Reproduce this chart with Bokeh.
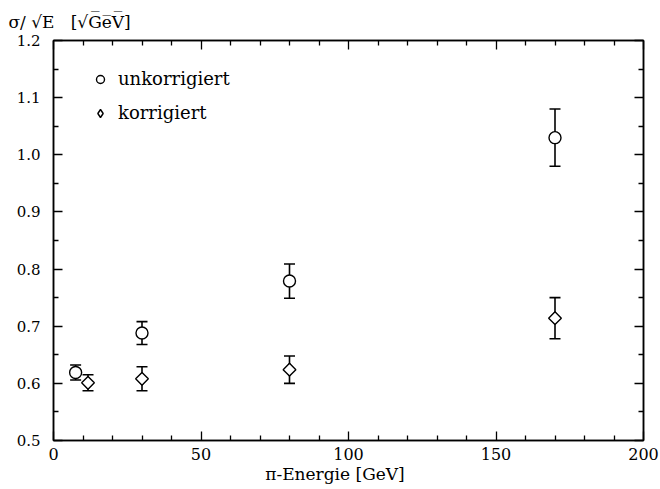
from bokeh.plotting import figure
from bokeh.models import (Range1d, LinearAxis, FixedTicker, NumeralTickFormatter, CustomJSTickFormatter,
                          Whisker, TeeHead, ColumnDataSource, Legend, LegendItem, Title)
from bokeh.embed import file_html
from bokeh.resources import INLINE
import math

# data
energy_unkorr = [7.5, 30, 80, 170]
sigma_unkorr = [0.619, 0.688, 0.779, 1.030]
err_unkorr = [0.013, 0.020, 0.030, 0.050]

energy_korr = [11.7, 30, 80, 170]
sigma_korr = [0.601, 0.608, 0.624, 0.714]
err_korr = [0.014, 0.021, 0.024, 0.036]

x_ticks = [0, 50, 100, 150, 200]
x_minor = [10, 20, 30, 40, 60, 70, 80, 90, 110, 120, 130, 140, 160, 170, 180, 190]
y_ticks = [0.5, 0.6, 0.7, 0.8, 0.9, 1.0, 1.1, 1.2]
y_minor = [0.55, 0.65, 0.75, 0.85, 0.95, 1.05, 1.15]

label_unkorr = "unkorrigiert"
label_korr = "korrigiert"
x_title = "π-Energie [GeV]" + "\u00a0" * 5
y_title = "σ/ √E\u00a0\u00a0 [√G̅e̅V̅]"

FONT = "DejaVu Serif"

p = figure(width=660, height=489, output_backend="svg", toolbar_location=None,
           x_range=Range1d(0, 200), y_range=Range1d(0.5, 1.2),
           min_border_left=53, min_border_right=17, min_border_top=40, min_border_bottom=49,
           x_axis_location=None, y_axis_location=None)
p.xgrid.visible = False
p.ygrid.visible = False
p.outline_line_color = "black"
p.outline_line_width = 1.5
p.background_fill_color = "white"
p.border_fill_color = "white"

def style(ax, show, standoff):
    ax.major_tick_in = 9
    ax.major_tick_out = 0
    ax.minor_tick_in = 5
    ax.minor_tick_out = 0
    ax.axis_line_color = "black"
    ax.axis_line_width = 1.5
    ax.major_tick_line_width = 1.3
    ax.minor_tick_line_width = 1.3
    ax.major_tick_line_color = "black"
    ax.minor_tick_line_color = "black"
    ax.major_label_text_font = FONT
    ax.major_label_text_font_size = "16px"
    ax.major_label_text_color = "black"
    if not show:
        ax.formatter = CustomJSTickFormatter(code="return ''")
        ax.major_label_standoff = 0
    else:
        ax.major_label_standoff = standoff
    return ax

def make_x(show):
    ax = LinearAxis(ticker=FixedTicker(ticks=x_ticks, minor_ticks=x_minor))
    return style(ax, show, 7)

def make_y(show):
    ax = LinearAxis(ticker=FixedTicker(ticks=y_ticks, minor_ticks=y_minor),
                    formatter=NumeralTickFormatter(format="0.0"))
    return style(ax, show, 13)

xb = make_x(True)
xb.axis_label = x_title
xb.axis_label_text_font = FONT
xb.axis_label_text_font_size = "17px"
xb.axis_label_text_font_style = "normal"
xb.axis_label_text_color = "black"
xb.axis_label_standoff = 1
p.add_layout(xb, "below")
p.add_layout(make_x(False), "above")
yl = make_y(True)
yl.major_label_text_font_size = "15px"
p.add_layout(yl, "left")
p.add_layout(make_y(False), "right")

src_u = ColumnDataSource(dict(x=energy_unkorr, y=sigma_unkorr,
                              lo=[s - e for s, e in zip(sigma_unkorr, err_unkorr)],
                              hi=[s + e for s, e in zip(sigma_unkorr, err_unkorr)]))
src_k = ColumnDataSource(dict(x=energy_korr, y=sigma_korr,
                              lo=[s - e for s, e in zip(sigma_korr, err_korr)],
                              hi=[s + e for s, e in zip(sigma_korr, err_korr)]))

for src in (src_u, src_k):
    w = Whisker(source=src, base="x", lower="lo", upper="hi", dimension="height",
                line_color="black", line_width=1.6,
                lower_head=TeeHead(size=11, line_color="black", line_width=1.6),
                upper_head=TeeHead(size=11, line_color="black", line_width=1.6))
    p.add_layout(w)

# diamond glyph used for the legend symbol; drawn underneath the wider data diamonds
r_k_leg = p.scatter("x", "y", source=src_k, marker="diamond", size=12,
                    fill_color="white", line_color="black", line_width=1.4)
r_u = p.scatter("x", "y", source=src_u, marker="circle", size=12,
                fill_color="white", line_color="black", line_width=1.4)
r_k = p.scatter("x", "y", source=src_k, marker="square", angle=math.pi / 4, size=9,
                fill_color="white", line_color="black", line_width=1.4)

legend = Legend(items=[LegendItem(label=label_unkorr, renderers=[r_u]),
                       LegendItem(label=label_korr, renderers=[r_k_leg])],
                location=(37, 317), border_line_color=None, background_fill_alpha=0,
                padding=0, margin=0, spacing=13, label_standoff=8,
                glyph_width=20, glyph_height=20, label_height=20,
                label_text_font=FONT, label_text_font_size="18px",
                label_text_color="black")
p.add_layout(legend)

p.title = Title(text=y_title, align="left", offset=-45, text_font=FONT,
                text_font_size="17px", text_font_style="normal", text_color="black",
                standoff=18)

open("out.html", "w").write(file_html(p, INLINE))
